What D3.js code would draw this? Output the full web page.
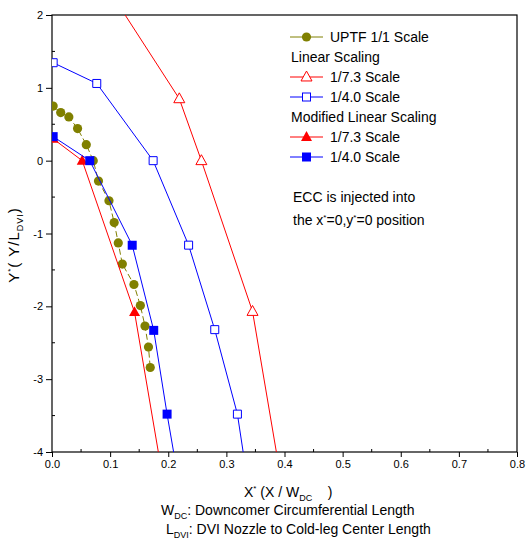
<!DOCTYPE html>
<html>
<head>
<meta charset="utf-8">
<script src="https://cdn.jsdelivr.net/npm/d3@7"></script>
<style>
  html, body { margin: 0; padding: 0; background: #fff; }
  svg { display: block; font-family: "Liberation Sans", Arial, sans-serif; }
  text { white-space: pre; }
</style>
</head>
<body>
<svg id="chart" width="527" height="547"></svg>
<script>
// UPTF full-scale measurements
const uptfX = [0.002, 0.015, 0.029, 0.044, 0.059, 0.071, 0.080, 0.098, 0.107, 0.114, 0.121, 0.141, 0.152, 0.160, 0.166, 0.169];
const uptfY = [0.75, 0.66, 0.60, 0.44, 0.22, 0.00, -0.28, -0.55, -0.85, -1.13, -1.42, -1.70, -1.99, -2.27, -2.56, -2.84];

// Linear scaling
const lin73X = [0.061, 0.219, 0.257, 0.345, 0.403];
const lin73Y = [2.80, 0.85, 0.00, -2.07, -4.80];
const lin40X = [0.002, 0.077, 0.174, 0.235, 0.280, 0.319, 0.341];
const lin40Y = [1.345, 1.06, 0.00, -1.16, -2.32, -3.48, -4.64];

// Modified linear scaling
const mod73X = [0.002, 0.052, 0.142, 0.200];
const mod73Y = [0.30, 0.00, -2.08, -4.80];
const mod40X = [0.002, 0.065, 0.138, 0.175, 0.198, 0.223];
const mod40Y = [0.33, 0.00, -1.16, -2.33, -3.48, -4.64];

const xTicks = [0, 0.1, 0.2, 0.3, 0.4, 0.5, 0.6, 0.7, 0.8];
const yTicks = [-4, -3, -2, -1, 0, 1, 2];

const svg = d3.select("#chart");
const M = { left: 52, right: 517, top: 15, bottom: 452 };

const x = d3.scaleLinear().domain([0, 0.8]).range([M.left, M.right]);
const y = d3.scaleLinear().domain([-4, 2]).range([M.bottom, M.top]);

const zip = (xs, ys) => xs.map((v, i) => [v, ys[i]]);

svg.append("defs").append("clipPath").attr("id", "plotClip")
  .append("rect")
  .attr("x", M.left).attr("y", M.top)
  .attr("width", M.right - M.left).attr("height", M.bottom - M.top);

// axes
const xAxis = d3.axisBottom(x).tickValues(xTicks).tickFormat(d3.format(".1f")).tickSize(5).tickPadding(3);
const yAxis = d3.axisLeft(y).tickValues(yTicks).tickFormat(d => d < 0 ? "-" + Math.abs(d) : d).tickSize(6).tickPadding(3);

const gx = svg.append("g").attr("transform", `translate(0,${M.bottom})`).call(xAxis);
const gy = svg.append("g").attr("transform", `translate(${M.left},0)`).call(yAxis);
[gx, gy].forEach(g => {
  g.select(".domain").remove();
  g.selectAll("line").attr("stroke", "#000");
  g.selectAll("text").attr("fill", "#000").style("font-size", "11px")
    .style("font-family", "'Liberation Sans', Arial, sans-serif");
});

// minor ticks
const xMinor = d3.range(0.05, 0.8, 0.1);
const yMinor = d3.range(-3.5, 2, 1);
svg.append("g").selectAll("line").data(xMinor).join("line")
  .attr("x1", d => x(d)).attr("x2", d => x(d))
  .attr("y1", M.bottom).attr("y2", M.bottom - 3)
  .attr("stroke", "#000");
svg.append("g").selectAll("line").data(yMinor).join("line")
  .attr("y1", d => y(d)).attr("y2", d => y(d))
  .attr("x1", M.left).attr("x2", M.left + 3)
  .attr("stroke", "#000");

// frame
svg.append("rect")
  .attr("x", M.left).attr("y", M.top)
  .attr("width", M.right - M.left).attr("height", M.bottom - M.top)
  .attr("fill", "none").attr("stroke", "#000").attr("stroke-width", 1.2);

const line = d3.line().x(d => x(d[0])).y(d => y(d[1]));
const plot = svg.append("g").attr("clip-path", "url(#plotClip)");

const OLIVE = "#808000", RED = "#ff0000", BLUE = "#0000ff";

function tri(cx, cy, s) {
  const h = s * 0.9;
  return `M${cx},${cy - h * 0.6}L${cx + s / 2},${cy + h * 0.4}L${cx - s / 2},${cy + h * 0.4}Z`;
}

function series(data, color, marker, filled, dashed) {
  plot.append("path").datum(data)
    .attr("d", line).attr("fill", "none").attr("stroke", color)
    .attr("stroke-width", 1).attr("stroke-dasharray", dashed ? "6,3" : null);
  const pts = plot.append("g").selectAll("path").data(data).join("path");
  if (marker === "circle") {
    pts.attr("d", d => d3.symbol(d3.symbolCircle, Math.PI * 4.6 * 4.6)())
      .attr("transform", d => `translate(${x(d[0])},${y(d[1])})`)
      .attr("fill", color).attr("stroke", "none");
  } else if (marker === "square") {
    const s = filled ? 9 : 8;
    pts.attr("d", d => `M${x(d[0]) - s / 2},${y(d[1]) - s / 2}h${s}v${s}h${-s}Z`)
      .attr("fill", filled ? color : "#fff").attr("stroke", color).attr("stroke-width", filled ? 0 : 1);
  } else {
    pts.attr("d", d => tri(x(d[0]), y(d[1]), 11))
      .attr("fill", filled ? color : "#fff").attr("stroke", color).attr("stroke-width", filled ? 0 : 1);
  }
}

series(zip(uptfX, uptfY), OLIVE, "circle", true, true);
series(zip(lin73X, lin73Y), RED, "triangle", false, false);
series(zip(lin40X, lin40Y), BLUE, "square", false, false);
series(zip(mod73X, mod73Y), RED, "triangle", true, false);
series(zip(mod40X, mod40Y), BLUE, "square", true, false);

// legend
const legend = svg.append("g").style("font-size", "14px");
const legendRows = [
  { row: 0, label: "UPTF 1/1 Scale", color: OLIVE, marker: "circle", filled: true },
  { row: 1, heading: "Linear Scaling" },
  { row: 2, label: "1/7.3 Scale", color: RED, marker: "triangle", filled: false },
  { row: 3, label: "1/4.0 Scale", color: BLUE, marker: "square", filled: false },
  { row: 4, heading: "Modified Linear Scaling" },
  { row: 5, label: "1/7.3 Scale", color: RED, marker: "triangle", filled: true },
  { row: 6, label: "1/4.0 Scale", color: BLUE, marker: "square", filled: true }
];
legendRows.forEach(r => {
  const cy = 37 + r.row * 20;
  if (r.heading) {
    legend.append("text").attr("x", 291).attr("y", cy + 5).text(r.heading);
    return;
  }
  legend.append("line").attr("x1", 290).attr("x2", 323).attr("y1", cy).attr("y2", cy)
    .attr("stroke", r.color).attr("stroke-width", 1);
  const mx = 306.5;
  if (r.marker === "circle") {
    legend.append("circle").attr("cx", mx).attr("cy", cy).attr("r", 4.6).attr("fill", r.color);
  } else if (r.marker === "square") {
    const s = r.filled ? 9 : 8;
    legend.append("rect").attr("x", mx - s / 2).attr("y", cy - s / 2).attr("width", s).attr("height", s)
      .attr("fill", r.filled ? r.color : "#fff").attr("stroke", r.color).attr("stroke-width", r.filled ? 0 : 1);
  } else {
    legend.append("path").attr("d", tri(mx, cy, 11))
      .attr("fill", r.filled ? r.color : "#fff").attr("stroke", r.color).attr("stroke-width", r.filled ? 0 : 1);
  }
  legend.append("text").attr("x", 330).attr("y", cy + 5).text(r.label);
});

// note about injection point
const note = svg.append("g").style("font-size", "14px");
note.append("text").attr("x", 293).attr("y", 202).text("ECC is injected into");
const n2 = note.append("text").attr("x", 293).attr("y", 225);
n2.append("tspan").text("the x");
n2.append("tspan").attr("dy", -5).style("font-size", "8px").text("*");
n2.append("tspan").attr("dy", 5).text("=0,y");
n2.append("tspan").attr("dy", -5).style("font-size", "8px").text("*");
n2.append("tspan").attr("dy", 5).text("=0 position");

// axis titles
const xt = svg.append("text").attr("x", 244).attr("y", 497).style("font-size", "14px");
xt.append("tspan").text("X");
xt.append("tspan").attr("dy", -6).style("font-size", "8px").text("*");
xt.append("tspan").attr("dy", 6).text(" (X / W");
xt.append("tspan").attr("dy", 4).style("font-size", "9px").text("DC");
xt.append("tspan").attr("dy", -4).text("    )");

const l1 = svg.append("text").attr("x", 161).attr("y", 515).style("font-size", "14px");
l1.append("tspan").text("W");
l1.append("tspan").attr("dy", 4).style("font-size", "9px").text("DC");
l1.append("tspan").attr("dy", -4).text(": Downcomer Circumferential Length");

const l2 = svg.append("text").attr("x", 166).attr("y", 534).style("font-size", "14px");
l2.append("tspan").text("L");
l2.append("tspan").attr("dy", 4).style("font-size", "9px").text("DVI");
l2.append("tspan").attr("dy", -4).text(": DVI Nozzle to Cold-leg Center Length");

const yt = svg.append("text").attr("transform", "translate(19,245) rotate(-90)")
  .attr("text-anchor", "middle").style("font-size", "15px").style("letter-spacing", "1px");
yt.append("tspan").text("Y");
yt.append("tspan").attr("dy", -6).style("font-size", "8px").text("*");
yt.append("tspan").attr("dy", 6).text("( Y/L");
yt.append("tspan").attr("dy", 4).style("font-size", "9px").text("DVI");
yt.append("tspan").attr("dy", -4).text(")");
</script>
</body>
</html>
